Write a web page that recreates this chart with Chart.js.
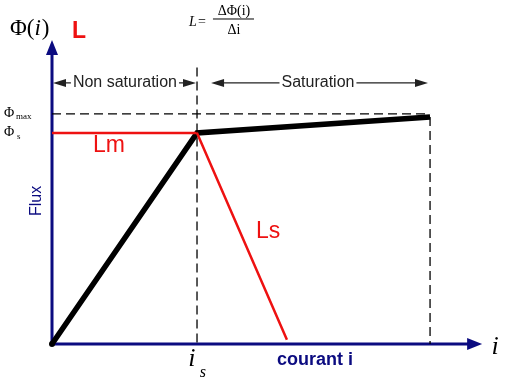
<!DOCTYPE html>
<html>
<head>
<meta charset="utf-8">
<script src="https://cdn.jsdelivr.net/npm/chart.js@4"></script>
<style>
  body { margin: 0; background: #fff; }
  #wrap { width: 513px; height: 387px; }
</style>
</head>
<body>
<div id="wrap"><canvas id="c" width="513" height="387"></canvas></div>
<script>
"use strict";

// current i in units of i_s, flux in units of Φs
const I_S = 1, I_MAX = 2.607;
const PHI_S = 1, PHI_MAX = 1.09, PHI_END = 1.076;

const fluxCurve = [ { x: 0, y: 0 }, { x: I_S, y: PHI_S }, { x: I_MAX, y: PHI_END } ];
const inductance = [ { x: 0, y: PHI_S }, { x: I_S, y: PHI_S }, { x: 1.62, y: 0.02 } ];
const phiMaxLine = [ { x: 0, y: PHI_MAX }, { x: I_MAX, y: PHI_MAX } ];
const isLine = [ { x: I_S, y: 1.31 }, { x: I_S, y: 0 } ];
const iMaxLine = [ { x: I_MAX, y: PHI_END }, { x: I_MAX, y: 0 } ];

const NAVY = "#0b0b80";
const RED = "#ee1111";
const SERIF = "'Liberation Serif', serif";
const SANS = "Arial, 'Liberation Sans'";

function arrowHead(ctx, x, y, dx, dy, len, half) {
  const px = -dy, py = dx;
  ctx.beginPath();
  ctx.moveTo(x, y);
  ctx.lineTo(x - dx * len + px * half, y - dy * len + py * half);
  ctx.lineTo(x - dx * len - px * half, y - dy * len - py * half);
  ctx.closePath();
  ctx.fill();
}

const decor = {
  id: "decor",
  beforeDatasetsDraw(chart) {
    const { ctx, scales: { x, y } } = chart;
    const ox = x.getPixelForValue(0), oy = y.getPixelForValue(0);
    const xt = x.getPixelForValue(2.966), yt = y.getPixelForValue(1.44);
    ctx.save();
    ctx.strokeStyle = NAVY; ctx.fillStyle = NAVY; ctx.lineWidth = 3;
    ctx.beginPath(); ctx.moveTo(ox, oy); ctx.lineTo(xt - 10, oy); ctx.stroke();
    ctx.beginPath(); ctx.moveTo(ox, oy); ctx.lineTo(ox, yt + 10); ctx.stroke();
    arrowHead(ctx, xt, oy, 1, 0, 15, 6);
    arrowHead(ctx, ox, yt, 0, -1, 15, 6);
    ctx.restore();
  },
  afterDatasetsDraw(chart) {
    const { ctx, scales: { x, y } } = chart;
    const X = v => x.getPixelForValue(v), Y = v => y.getPixelForValue(v);
    ctx.save();

    // origin dot
    ctx.fillStyle = "#000";
    ctx.beginPath(); ctx.arc(X(0), Y(0), 3, 0, Math.PI * 2); ctx.fill();

    // dimension arrows
    const dimY = Y(1.237);
    ctx.strokeStyle = "#222"; ctx.fillStyle = "#222"; ctx.lineWidth = 1.3;
    [[0.007, 0.993], [1.097, 2.593]].forEach(([a, b]) => {
      ctx.beginPath(); ctx.moveTo(X(a) + 8, dimY); ctx.lineTo(X(b) - 8, dimY); ctx.stroke();
      arrowHead(ctx, X(a), dimY, -1, 0, 13, 4);
      arrowHead(ctx, X(b), dimY, 1, 0, 13, 4);
    });
    ctx.font = "16px " + SANS;
    ctx.textAlign = "center"; ctx.textBaseline = "middle";
    [["Non saturation", 0.503], ["Saturation", 1.834]].forEach(([t, v]) => {
      const w = ctx.measureText(t).width;
      ctx.fillStyle = "#fff"; ctx.fillRect(X(v) - w / 2 - 2, dimY - 8, w + 4, 16);
      ctx.fillStyle = "#222"; ctx.fillText(t, X(v), dimY);
    });

    // Φ(i) and L
    ctx.fillStyle = "#000";
    ctx.textAlign = "left";
    ctx.font = "23px " + SERIF;
    let px = X(-0.290), py = Y(1.493);
    ctx.fillText("Φ(", px, py);
    px += ctx.measureText("Φ(").width;
    ctx.font = "italic 23px " + SERIF;
    ctx.fillText("i", px, py);
    px += ctx.measureText("i").width + 1;
    ctx.font = "23px " + SERIF;
    ctx.fillText(")", px, py);

    ctx.fillStyle = RED;
    ctx.font = "bold 23px " + SANS;
    ctx.textAlign = "center";
    ctx.fillText("L", X(0.186), Y(1.479));

    // formula L = ΔΦ(i)/Δi
    ctx.fillStyle = "#000";
    ctx.font = "italic 14px " + SERIF;
    ctx.fillText("L", X(0.972), Y(1.526));
    ctx.font = "14px " + SERIF;
    ctx.fillText("=", X(1.034), Y(1.526));
    ctx.fillText("ΔΦ(i)", X(1.255), Y(1.578));
    ctx.fillText("Δi", X(1.255), Y(1.488));
    ctx.lineWidth = 1; ctx.strokeStyle = "#000";
    ctx.beginPath(); ctx.moveTo(X(1.110), Y(1.540)); ctx.lineTo(X(1.393), Y(1.540)); ctx.stroke();

    // Φmax, Φs
    ctx.textAlign = "left";
    ctx.font = "14px " + SERIF;
    ctx.fillText("Φ", X(-0.331), Y(PHI_MAX) - 1);
    ctx.fillText("Φ", X(-0.331), Y(PHI_S) - 1);
    ctx.font = "9px " + SERIF;
    ctx.fillText("max", X(-0.331) + 12, Y(PHI_MAX) + 3);
    ctx.fillText("s", X(-0.331) + 13, Y(PHI_S) + 4);

    // Lm, Ls
    ctx.fillStyle = RED;
    ctx.textAlign = "center";
    ctx.font = "23px " + SANS;
    ctx.fillText("Lm", X(0.393), Y(0.938));
    ctx.fillText("Ls", X(1.490), Y(0.531));

    // Flux
    ctx.fillStyle = NAVY;
    ctx.font = "16px " + SANS;
    ctx.save();
    ctx.translate(X(-0.103), Y(0.678));
    ctx.rotate(-Math.PI / 2);
    ctx.fillText("Flux", 0, 0);
    ctx.restore();

    // courant i
    ctx.font = "bold 18px " + SANS;
    ctx.fillText("courant i", X(1.814), Y(-0.076));

    // i_s and i
    ctx.fillStyle = "#000";
    ctx.font = "italic 26px " + SERIF;
    ctx.fillText("i", X(0.965), Y(-0.070));
    ctx.fillText("i", X(3.055), Y(-0.015));
    ctx.font = "italic 16px " + SERIF;
    ctx.fillText("s", X(1.04), Y(-0.137));

    ctx.restore();
  }
};

const dashed = data => ({
  data, showLine: true, borderColor: "#000", borderWidth: 1.3,
  borderDash: [9, 5], pointRadius: 0, fill: false
});

new Chart(document.getElementById("c"), {
  type: "scatter",
  data: {
    datasets: [
      dashed(phiMaxLine),
      dashed(isLine),
      dashed(iMaxLine),
      { data: inductance, showLine: true, borderColor: RED, borderWidth: 2.5, pointRadius: 0 },
      { data: fluxCurve, showLine: true, borderColor: "#000", borderWidth: 5.5, pointRadius: 0 },
    ],
  },
  options: {
    responsive: false,
    animation: false,
    layout: { padding: 0 },
    plugins: { legend: { display: false }, tooltip: { enabled: false } },
    scales: {
      x: { type: "linear", display: false, min: -0.3586, max: 3.179 },
      y: { type: "linear", display: false, min: -0.2038, max: 1.630 },
    },
  },
  plugins: [decor],
});
</script>
</body>
</html>
